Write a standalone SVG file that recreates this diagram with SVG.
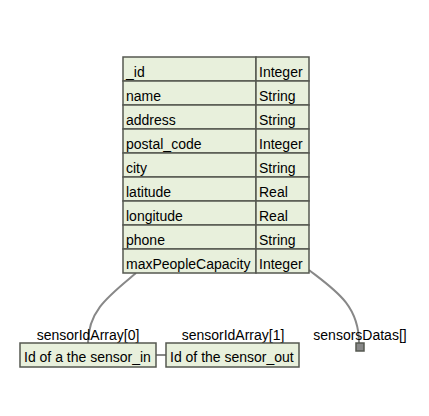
<svg xmlns="http://www.w3.org/2000/svg" width="429" height="416" viewBox="0 0 429 416">
<style>
.cell{fill:#e8f0dc;stroke:#555850;stroke-width:1.5}
.t{font-family:"Liberation Sans",Arial,sans-serif;font-size:14px;fill:#000}
.lbl{font-family:"Liberation Sans",Arial,sans-serif;font-size:14px;fill:#000;text-anchor:middle}
.conn{fill:none;stroke:#888;stroke-width:2}
</style>
<rect width="429" height="416" fill="#fff"/>
<g id="connectors">
<path class="conn" d="M136,273 C110,295 88,310 88,343"/>
<path class="conn" d="M309,270 C335,290 359,305 359,343"/>
<line class="conn" x1="156" y1="355" x2="166" y2="355"/>
</g>
<g id="table">
<rect class="cell" x="123" y="57" width="133" height="24"/><rect class="cell" x="256" y="57" width="53" height="24"/>
<rect class="cell" x="123" y="81" width="133" height="24"/><rect class="cell" x="256" y="81" width="53" height="24"/>
<rect class="cell" x="123" y="105" width="133" height="24"/><rect class="cell" x="256" y="105" width="53" height="24"/>
<rect class="cell" x="123" y="129" width="133" height="24"/><rect class="cell" x="256" y="129" width="53" height="24"/>
<rect class="cell" x="123" y="153" width="133" height="24"/><rect class="cell" x="256" y="153" width="53" height="24"/>
<rect class="cell" x="123" y="177" width="133" height="24"/><rect class="cell" x="256" y="177" width="53" height="24"/>
<rect class="cell" x="123" y="201" width="133" height="24"/><rect class="cell" x="256" y="201" width="53" height="24"/>
<rect class="cell" x="123" y="225" width="133" height="24"/><rect class="cell" x="256" y="225" width="53" height="24"/>
<rect class="cell" x="123" y="249" width="133" height="24"/><rect class="cell" x="256" y="249" width="53" height="24"/>
<text class="t" x="126" y="77">_id</text><text class="t" x="259" y="77">Integer</text>
<text class="t" x="126" y="101">name</text><text class="t" x="259" y="101">String</text>
<text class="t" x="126" y="125">address</text><text class="t" x="259" y="125">String</text>
<text class="t" x="126" y="149">postal_code</text><text class="t" x="259" y="149">Integer</text>
<text class="t" x="126" y="173">city</text><text class="t" x="259" y="173">String</text>
<text class="t" x="126" y="197">latitude</text><text class="t" x="259" y="197">Real</text>
<text class="t" x="126" y="221">longitude</text><text class="t" x="259" y="221">Real</text>
<text class="t" x="126" y="245">phone</text><text class="t" x="259" y="245">String</text>
<text class="t" x="126" y="269">maxPeopleCapacity</text><text class="t" x="259" y="269">Integer</text>
</g>
<g id="sensor_in">
<text class="lbl" x="88" y="340">sensorIdArray[0]</text>
<rect class="cell" x="20" y="343" width="136" height="24"/>
<text class="t" x="24" y="362">Id of a the sensor_in</text>
</g>
<g id="sensor_out">
<text class="lbl" x="233" y="340">sensorIdArray[1]</text>
<rect class="cell" x="166" y="343" width="133" height="24"/>
<text class="t" x="170" y="362">Id of the sensor_out</text>
</g>
<g id="sensorsDatas">
<text class="lbl" x="360" y="340">sensorsDatas[]</text>
<rect x="356" y="343" width="8" height="8" fill="#888" stroke="#555850" stroke-width="1.5"/>
</g>
</svg>
